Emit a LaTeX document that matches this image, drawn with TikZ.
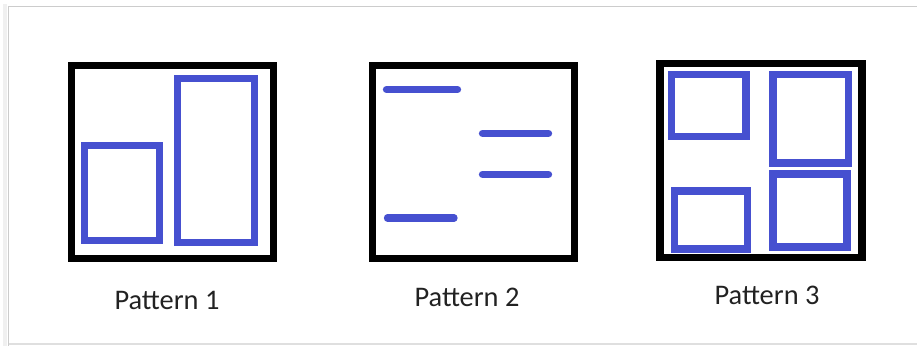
\documentclass[tikz,border=0pt]{standalone}
\usepackage{fontspec}
\setmainfont{Carlito}
\definecolor{patblue}{RGB}{70,80,208}
\definecolor{captiongray}{RGB}{34,34,34}
\begin{document}
\begin{tikzpicture}[
    x=0.75pt, y=-0.75pt,
    frame/.style={
        rectangle,
        draw=black,
        line width=5.8pt,
        inner sep=0pt
    },
    pane/.style 2 args={
        rectangle,
        draw=patblue,
        line width=5.5pt,
        inner sep=0pt,
        minimum width=#1*0.75pt,
        minimum height=#2*0.75pt
    },
    bar/.style={
        draw=patblue,
        line width=5.5pt,
        line cap=round
    },
    caption/.style={
        font=\fontsize{21.3}{25}\selectfont,
        text=captiongray
    }
]
\useasboundingbox (0,0) rectangle (917,346);

% Page edge
\draw[gray!12, line width=3pt] (5,346) -- (5,4);
\draw[gray!40, line width=1pt] (8.5,346) -- (8.5,6.5) -- (917,6.5);
\draw[gray!25, line width=1pt] (8.5,344) -- (917,344);

% Pattern 1
\node[pane={75}{95}] (p1a) at (122, 193) {};
\node[pane={77}{164}] (p1b) at (216, 160.5) {};
\node[frame, minimum width=202*0.75pt, minimum height=193*0.75pt] (p1) at (172.5, 162) {};
\node[caption] (c1) at (167, 300) {Pattern 1};

% Pattern 2
\node[frame, minimum width=202*0.75pt, minimum height=193*0.75pt] (p2) at (473.5, 162) {};
\draw[bar] (386.5, 89.5) -- (457.5, 89.5);
\draw[bar] (482.5, 133.3) -- (548.5, 133.3);
\draw[bar] (482.5, 174.3) -- (548.5, 174.3);
\draw[bar] (387.5, 218) -- (454, 218);
\node[caption] (c2) at (467, 297) {Pattern 2};

% Pattern 3
\node[pane={74.5}{62}] (p3a) at (708.8, 105.5) {};
\node[pane={75.5}{88.5}] (p3b) at (810.8, 118.8) {};
\node[pane={73}{58}] (p3c) at (711.3, 220) {};
\node[pane={74}{73}] (p3d) at (810, 210.5) {};
\node[frame, minimum width=202*0.75pt, minimum height=194*0.75pt] (p3) at (760.7, 160.4) {};
\node[caption] (c3) at (767, 295) {Pattern 3};

\end{tikzpicture}
\end{document}
